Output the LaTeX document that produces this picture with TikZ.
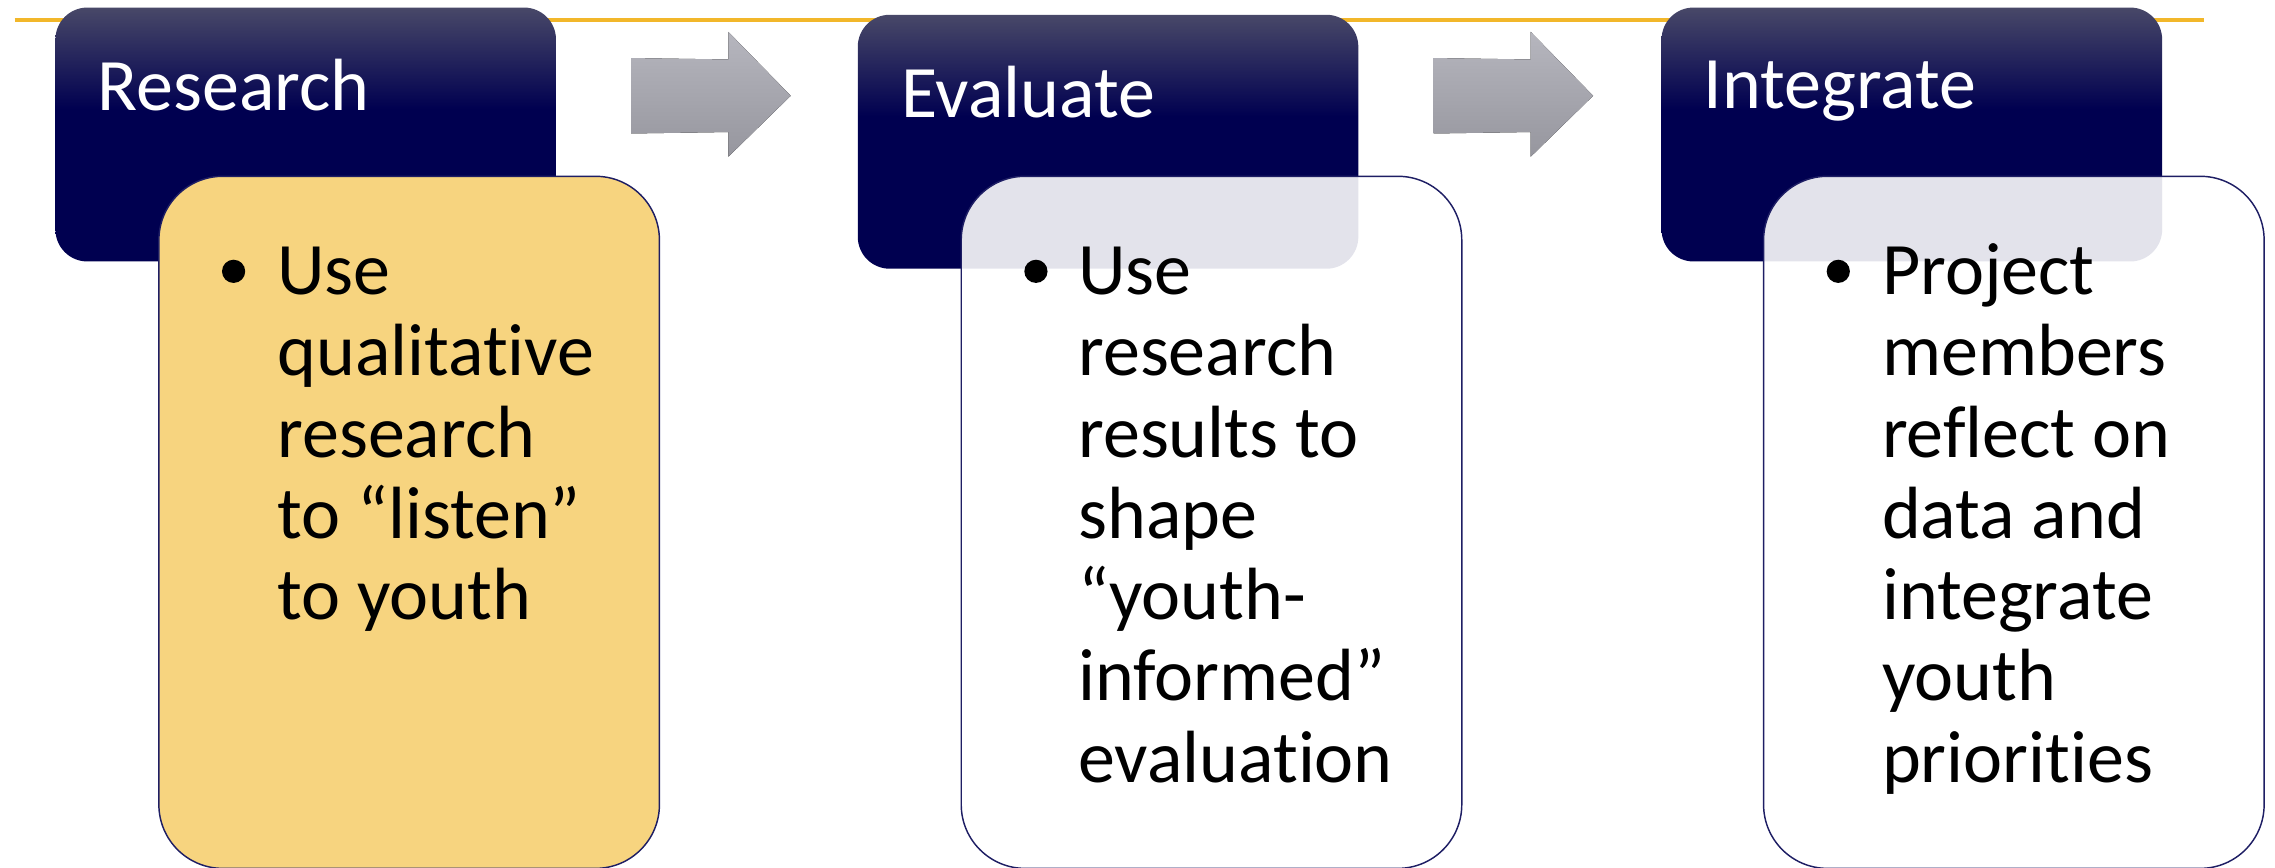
\documentclass[tikz,border=0pt]{standalone}
\usepackage{fontspec}
\setmainfont{Carlito}[Ligatures=NoCommon]
\definecolor{hdrnavy}{RGB}{0,0,80}
\definecolor{hdrtop}{RGB}{72,72,104}
\definecolor{rulegold}{RGB}{242,183,42}
\definecolor{cardyellow}{RGB}{247,212,127}
\definecolor{cardline}{RGB}{30,30,100}
\definecolor{arrowtop}{RGB}{182,182,190}
\definecolor{arrowbot}{RGB}{150,150,158}
\pgfdeclareverticalshading{hdrshade}{100bp}{color(0bp)=(hdrnavy); color(55bp)=(hdrnavy); color(75bp)=(hdrtop); color(100bp)=(hdrtop)}
% card text: one line per \\, baseline of the node on the first line
\newcommand{\cardlines}[1]{\parbox[t]{330pt}{\let\\\newline#1}}
\begin{document}
\begin{tikzpicture}[x=1pt,y=-1pt,
  hdr/.style={rectangle, rounded corners=22pt, shading=hdrshade, minimum width=345pt, minimum height=175pt, inner sep=0pt, anchor=north west},
  card/.style={rectangle, rounded corners=44pt, draw=cardline, line width=1pt, minimum width=345pt, minimum height=477pt, inner sep=0pt, anchor=north west},
  yellowcard/.style={card, fill=cardyellow},
  whitecard/.style={card, fill=white, fill opacity=0.89},
  hdrtext/.style={anchor=base west, text=white, inner sep=0pt, font=\fontsize{51}{60}\selectfont},
  bodytext/.style={anchor=base west, text=black, inner sep=0pt, font=\fontsize{51}{56}\selectfont},
  bulletdot/.style={circle, fill=black, inner sep=0pt, minimum size=16pt},
  blockarrow/.style={top color=arrowtop, bottom color=arrowbot}
]
\useasboundingbox (0,0) rectangle (1568,598);
% gold rule across the top
\draw[rulegold, line width=2.8pt] (10,14) coordinate (ruleL) -- (1519,14) coordinate (ruleR);

% stage headers
\node[hdr] (hdrA) at (38,5) {};
\node[hdr] (hdrB) at (591,10) {};
\node[hdr] (hdrC) at (1145,5) {};
\node[hdrtext] (hA) at (67,76) {Research};
\node[hdrtext] (hB) at (621,81) {Evaluate};
\node[hdrtext] (hC) at (1174,75) {Integrate};

% block arrows between stages
\fill[blockarrow] (435,40) -- (502,41) -- (502,22) -- (545,66) -- (502,108) -- (502,91) -- (435,92) -- cycle;
\fill[blockarrow] (988,40) -- (1055,41) -- (1055,22) -- (1098,66) -- (1055,108) -- (1055,91) -- (988,92) -- cycle;

% detail cards
\node[yellowcard] (cardA) at (109,121) {};
\node[whitecard] (cardB) at (662,121) {};
\node[whitecard] (cardC) at (1215,121) {};

\node[bulletdot] (bA) at (161,187) {};
\node[bulletdot] (bB) at (714,187) {};
\node[bulletdot] (bC) at (1267,187) {};
\node[bodytext] (tA) at (191,203) {\cardlines{Use\\qualitative\\research\\to “listen”\\to youth}};
\node[bodytext] (tB) at (743,203) {\cardlines{Use\\research\\results to\\shape\\“youth-\\informed”\\evaluation}};
\node[bodytext] (tC) at (1297,203) {\cardlines{Project\\members\\reflect on\\data and\\integrate\\youth\\priorities}};
\end{tikzpicture}
\end{document}
